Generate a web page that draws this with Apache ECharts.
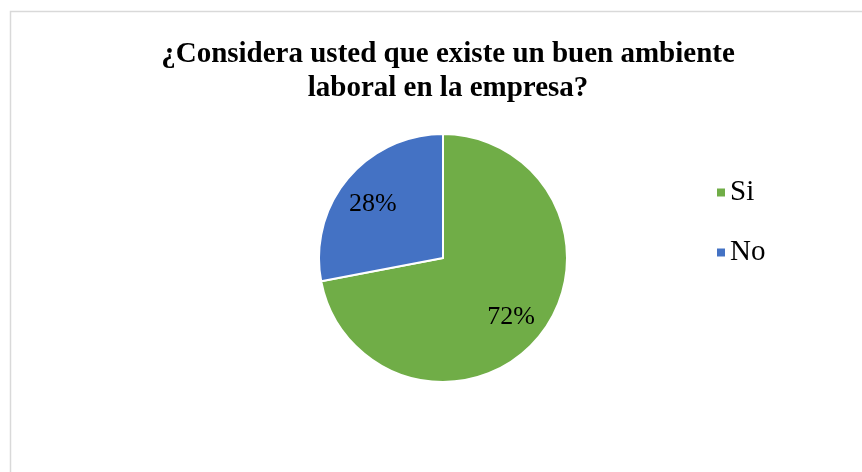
<!DOCTYPE html>
<html>
<head>
<meta charset="utf-8">
<style>
  html, body { margin: 0; padding: 0; background: #ffffff; }
  #chart { width: 862px; height: 472px; }
</style>
<script src="https://cdn.jsdelivr.net/npm/echarts@6/dist/echarts.min.js"></script>
</head>
<body>
<div id="chart"></div>
<script>
// Survey answers and their shares (percent)
const categories = ['Si', 'No'];
const shares = [72, 28];
const sliceColors = ['#70AD47', '#4472C4'];
const titleText = '¿Considera usted que existe un buen ambiente\nlaboral en la empresa?';

const serif = '"Liberation Serif", "Times New Roman", serif';
const center = [443, 258];
const radius = 124;

const chart = echarts.init(document.getElementById('chart'), null, { renderer: 'canvas' });

chart.setOption({
  animation: false,
  backgroundColor: '#ffffff',
  graphic: [{
    type: 'rect',
    shape: { x: 10.5, y: 11.5, width: 900, height: 500 },
    style: { fill: 'none', stroke: '#d9d9d9', lineWidth: 1.5 },
    silent: true,
    z: -1
  }],
  title: {
    text: titleText,
    left: 443,
    textAlign: 'center',
    top: 33,
    textStyle: {
      fontFamily: serif,
      fontWeight: 'bold',
      fontSize: 29,
      lineHeight: 34,
      color: '#000000'
    }
  },
  legend: {
    orient: 'vertical',
    left: 710,
    top: 173,
    itemWidth: 10,
    itemHeight: 10,
    itemGap: 31,
    icon: 'rect',
    data: categories,
    textStyle: {
      fontFamily: serif,
      fontSize: 29,
      color: '#000000',
      padding: [0, 0, 0, -1]
    }
  },
  series: [{
    type: 'pie',
    center: center,
    radius: radius,
    startAngle: 90,
    clockwise: true,
    silent: true,
    label: {
      show: true,
      position: 'inside',
      formatter: '{d}%',
      fontFamily: serif,
      fontSize: 26,
      color: '#000000'
    },
    // push the percentage labels further out along each slice's mid-angle
    labelLayout: function (params) {
      const r = params.labelRect;
      const lx = r.x + r.width / 2;
      const ly = r.y + r.height / 2;
      return { dx: (lx - center[0]) * 0.38 - 1, dy: (ly - center[1]) * 0.36 + 3 };
    },
    labelLine: { show: false },
    itemStyle: { borderColor: '#ffffff', borderWidth: 2 },
    data: categories.map((name, i) => ({
      name: name,
      value: shares[i],
      itemStyle: { color: sliceColors[i] }
    }))
  }]
});
</script>
</body>
</html>
